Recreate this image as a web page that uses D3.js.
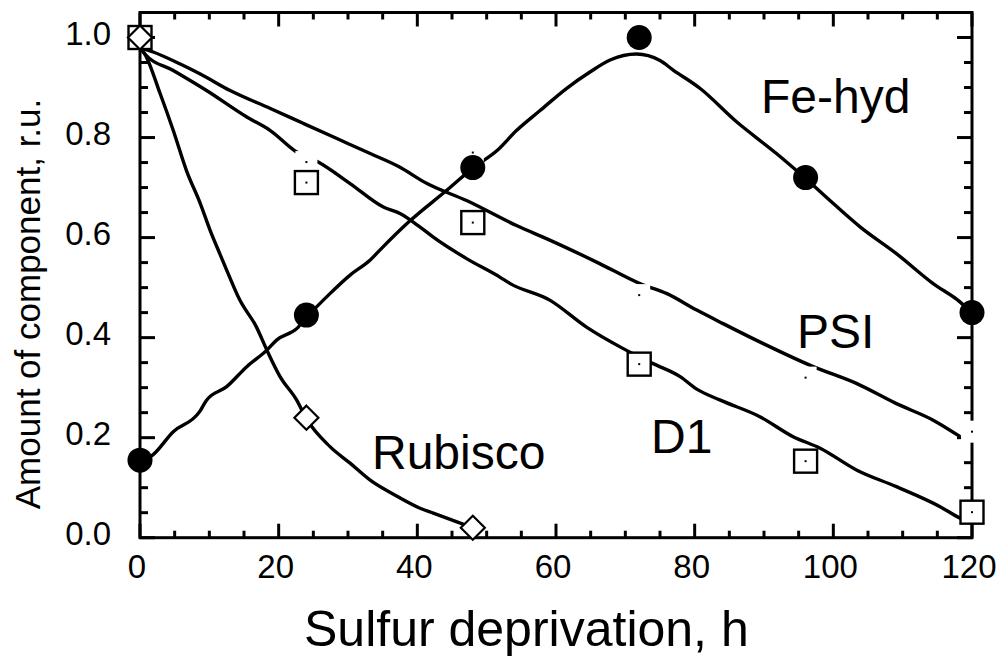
<!DOCTYPE html>
<html lang="en">
<head>
    <meta charset="UTF-8">
    <title>Sulfur deprivation</title>
    <script src="https://d3js.org/d3.v7.min.js"></script>
    <style>
        body {
            margin: 0;
            background: #ffffff;
        }
        svg text {
            font-family: 'Liberation Sans', Arial, sans-serif;
            fill: #000;
        }
    </style>
</head>
<body>
    <div id="chart"></div>
    <script>
        // measured points
        const hours = [0, 24, 48, 72, 96, 120];
        const feHyd = [0.155, 0.445, 0.74, 1.0, 0.72, 0.45];
        const d1 = [1.0, 0.71, 0.63, 0.347, 0.153, 0.051];
        const rubiscoHours = [0, 24, 48];
        const rubisco = [1.0, 0.24, 0.02];
        const psiHours = [24, 48, 72, 96, 120];
        const psi = [0.751, 0.77, 0.485, 0.32, 0.212];

        // fitted curves
        const feHydCurve = [[0, 0.155], [1.5, 0.162], [4.8, 0.212], [8.6, 0.252], [9.6, 0.275], [12.5, 0.302],
            [15.4, 0.342], [18.3, 0.375], [19.7, 0.395], [22.6, 0.418], [24, 0.44], [27.4, 0.488], [30.3, 0.525],
            [33.2, 0.555], [34.6, 0.575], [38.9, 0.633], [44.2, 0.694], [48, 0.739], [51.5, 0.774], [54.3, 0.814],
            [57.7, 0.854], [61.5, 0.898], [64.9, 0.931], [67.8, 0.955], [71.6, 0.967], [75, 0.954], [76.9, 0.935],
            [80.8, 0.898], [86, 0.832], [91.8, 0.768], [96, 0.718], [100, 0.668], [103.9, 0.621], [109.1, 0.568],
            [114.4, 0.508], [118.3, 0.471], [120, 0.449]];
        const psiCurve = [[0, 0.98], [1.9, 0.971], [5.8, 0.947], [8.7, 0.927], [13, 0.894], [18.8, 0.858],
            [23.6, 0.828], [28.4, 0.798], [33.2, 0.768], [37.3, 0.742], [41.4, 0.708], [47.1, 0.674], [54.3, 0.624],
            [59.1, 0.595], [66.3, 0.548], [72.1, 0.508], [76, 0.488], [80.3, 0.455], [84.1, 0.428], [89.9, 0.388],
            [97.1, 0.342], [103.4, 0.308], [109.1, 0.268], [114.4, 0.235], [118.3, 0.202]];
        const d1Curve = [[0, 0.98], [0.7, 0.967], [4.8, 0.934], [9.6, 0.894], [15.4, 0.841], [18.8, 0.814],
            [22.6, 0.771], [25.7, 0.751], [30.3, 0.708], [35.1, 0.661], [37.5, 0.648], [40.4, 0.621], [42.3, 0.601],
            [47.1, 0.558], [51.9, 0.521], [53.4, 0.508], [59.1, 0.475], [64.4, 0.421], [69.7, 0.378], [74, 0.348],
            [77.9, 0.322], [80.3, 0.297], [83.7, 0.275], [89.4, 0.242], [94.2, 0.202], [98.1, 0.179], [103.4, 0.135],
            [109.1, 0.102], [115.4, 0.062], [118.3, 0.039], [120, 0.03]];
        const rubiscoCurve = [[0, 0.98], [0.7, 0.967], [2.9, 0.888], [4.8, 0.814], [6.7, 0.734], [8.7, 0.668],
            [10.1, 0.615], [11.5, 0.568], [12.5, 0.535], [14.4, 0.475], [16.8, 0.421], [18.3, 0.375], [20.2, 0.322],
            [22.6, 0.275], [24, 0.238], [27.4, 0.182], [30.3, 0.149], [33.2, 0.115], [37.2, 0.082], [40.4, 0.059],
            [42.3, 0.049], [46.2, 0.029], [48.1, 0.019]];

        const xTicks = [0, 20, 40, 60, 80, 100, 120];
        const yTicks = [0, 0.2, 0.4, 0.6, 0.8, 1.0];

        const width = 1000;
        const height = 656;
        const mLeft = 140, mRight = 972, mTop = 12.5, mBottom = 537.7;

        const svg = d3.select("#chart")
            .append("svg")
            .attr("width", width)
            .attr("height", height);

        const x = d3.scaleLinear().domain([0, 120]).range([mLeft, mRight]);
        const y = d3.scaleLinear().domain([0, 1.05]).range([mBottom, mTop]);

        // frame
        svg.append("rect")
            .attr("x", mLeft).attr("y", mTop)
            .attr("width", mRight - mLeft).attr("height", mBottom - mTop)
            .attr("fill", "none").attr("stroke", "#000").attr("stroke-width", 3);

        // ticks, inside, mirrored on all four sides
        const ticks = svg.append("g").attr("stroke", "#000").attr("stroke-width", 3);
        d3.range(0, 121, 5).forEach(h => {
            const len = h % 20 === 0 ? 14 : 7;
            ticks.append("line").attr("x1", x(h)).attr("x2", x(h)).attr("y1", mBottom).attr("y2", mBottom - len);
            ticks.append("line").attr("x1", x(h)).attr("x2", x(h)).attr("y1", mTop).attr("y2", mTop + len);
        });
        d3.range(0, 21).forEach(i => {
            const v = i * 0.05;
            const len = i % 4 === 0 ? 15 : 8;
            ticks.append("line").attr("y1", y(v)).attr("y2", y(v)).attr("x1", mLeft).attr("x2", mLeft + len);
            ticks.append("line").attr("y1", y(v)).attr("y2", y(v)).attr("x1", mRight).attr("x2", mRight - len);
        });

        // tick labels
        svg.append("g").selectAll("text")
            .data(xTicks)
            .enter().append("text")
            .attr("x", d => x(d) - 3)
            .attr("y", 578)
            .attr("text-anchor", "middle")
            .attr("font-size", "33px")
            .text(d => d);

        svg.append("g").selectAll("text")
            .data(yTicks)
            .enter().append("text")
            .attr("x", 111)
            .attr("y", d => y(d) + 7)
            .attr("text-anchor", "end")
            .attr("font-size", "33px")
            .text(d => d.toFixed(1));

        // axis titles
        svg.append("text")
            .attr("x", 304)
            .attr("y", 646)
            .attr("font-size", "50px")
            .text("Sulfur deprivation, h");

        svg.append("text")
            .attr("transform", "translate(40,304) rotate(-90)")
            .attr("text-anchor", "middle")
            .attr("font-size", "35px")
            .text("Amount of component, r.u.");

        // curves
        const line = d3.line()
            .x(d => x(d[0]))
            .y(d => y(d[1]))
            .curve(d3.curveMonotoneX);

        [feHydCurve, psiCurve, d1Curve, rubiscoCurve].forEach(c => {
            svg.append("path")
                .attr("d", line(c))
                .attr("fill", "none")
                .attr("stroke", "#000")
                .attr("stroke-width", 3.4)
                .attr("stroke-linejoin", "round");
        });

        // PSI points: white markers with a tiny centre dot
        const psiPts = psiHours.map((h, i) => [h, psi[i]]);
        svg.append("g").selectAll("rect")
            .data(psiPts)
            .enter().append("rect")
            .attr("x", d => x(d[0]) - 11)
            .attr("y", d => y(d[1]) - 11)
            .attr("width", 22).attr("height", 22)
            .attr("fill", "#fff");
        svg.append("g").selectAll("rect")
            .data(psiPts)
            .enter().append("rect")
            .attr("x", d => x(d[0]) - 1)
            .attr("y", d => y(d[1]) - 1)
            .attr("width", 2).attr("height", 2)
            .attr("fill", "#000");

        // D1 squares
        const d1Pts = hours.map((h, i) => [h, d1[i]]);
        svg.append("g").selectAll("rect")
            .data(d1Pts)
            .enter().append("rect")
            .attr("x", d => x(d[0]) - 11.5)
            .attr("y", d => y(d[1]) - 11.5)
            .attr("width", 23).attr("height", 23)
            .attr("fill", "#fff")
            .attr("stroke", "#000")
            .attr("stroke-width", 2.4);
        svg.append("g").selectAll("rect")
            .data(d1Pts.slice(1))
            .enter().append("rect")
            .attr("x", d => x(d[0]) - 1)
            .attr("y", d => y(d[1]) - 1)
            .attr("width", 2).attr("height", 2)
            .attr("fill", "#000");

        // Rubisco diamonds
        svg.append("g").selectAll("path")
            .data(rubiscoHours.map((h, i) => [h, rubisco[i]]))
            .enter().append("path")
            .attr("transform", d => `translate(${x(d[0])},${y(d[1])})`)
            .attr("d", "M0,-12L12,0L0,12L-12,0Z")
            .attr("fill", "#fff")
            .attr("stroke", "#000")
            .attr("stroke-width", 2.2);

        // Fe-hyd circles
        svg.append("g").selectAll("circle")
            .data(hours.map((h, i) => [h, feHyd[i]]))
            .enter().append("circle")
            .attr("cx", d => x(d[0]))
            .attr("cy", d => y(d[1]))
            .attr("r", 12.5)
            .attr("fill", "#000");

        // series labels
        const labels = [
            { text: "Fe-hyd", px: 761, py: 113 },
            { text: "PSI", px: 797, py: 348 },
            { text: "D1", px: 651, py: 453 },
            { text: "Rubisco", px: 372, py: 469 }
        ];
        svg.append("g").selectAll("text")
            .data(labels)
            .enter().append("text")
            .attr("x", d => d.px)
            .attr("y", d => d.py)
            .attr("font-size", "48px")
            .text(d => d.text);
    </script>
</body>
</html>
